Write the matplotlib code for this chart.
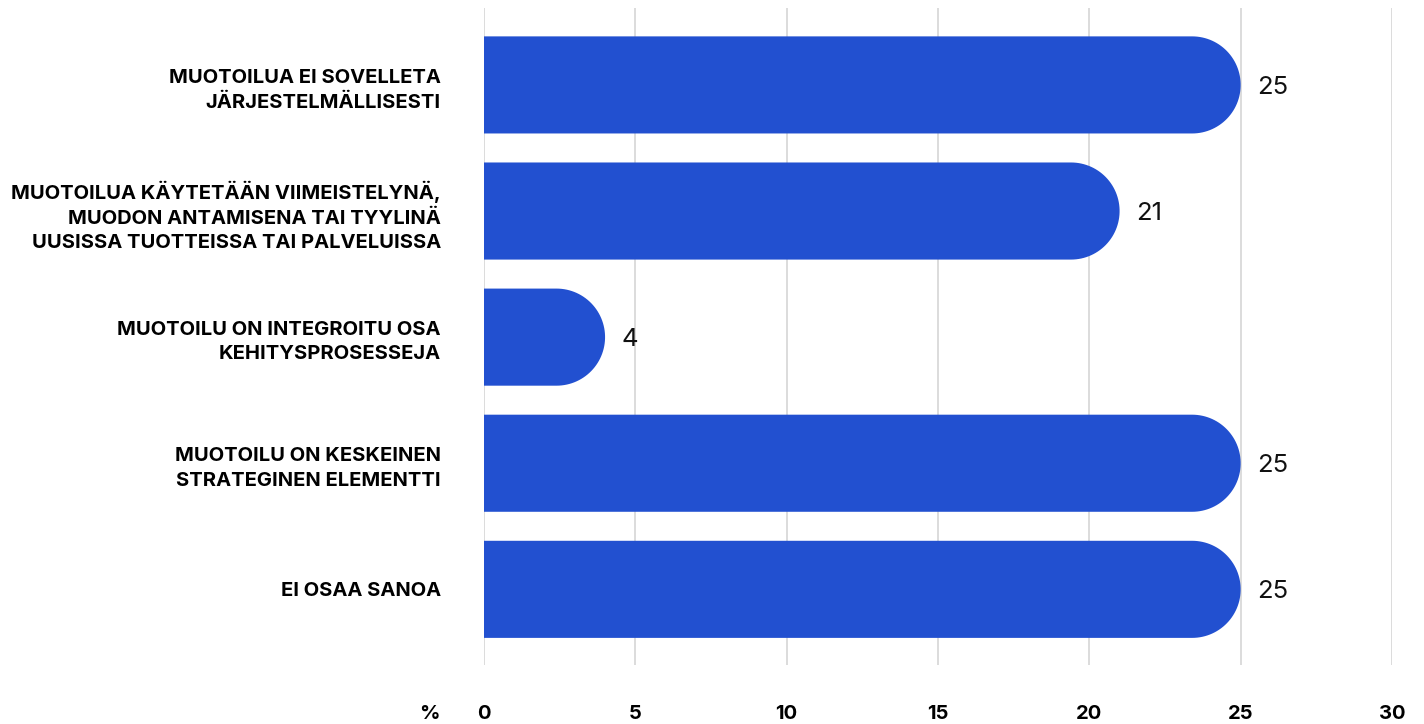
import matplotlib
matplotlib.use("Agg")
import numpy as np
import matplotlib.pyplot as plt
from matplotlib.patches import Polygon

plt.rcParams['font.family'] = ['Inter', 'DejaVu Sans']

# Data
categories = [
    "MUOTOILUA EI SOVELLETA\nJÄRJESTELMÄLLISESTI",
    "MUOTOILUA KÄYTETÄÄN VIIMEISTELYNÄ,\nMUODON ANTAMISENA TAI TYYLINÄ\nUUSISSA TUOTTEISSA TAI PALVELUISSA",
    "MUOTOILU ON INTEGROITU OSA\nKEHITYSPROSESSEJA",
    "MUOTOILU ON KESKEINEN\nSTRATEGINEN ELEMENTTI",
    "EI OSAA SANOA",
]
values = [25, 21, 4, 25, 25]
xticks = [0, 5, 10, 15, 20, 25, 30]

BAR_COLOR = "#2250d0"
BAR_H = 0.77

W, H = 1424, 724
fig = plt.figure(figsize=(W / 100, H / 100), dpi=100)
ax_left, ax_right, ax_top, ax_bot = 484, 1392, 8, 665
ax = fig.add_axes([ax_left / W, 1 - ax_bot / H, (ax_right - ax_left) / W, (ax_bot - ax_top) / H])

y_lo, y_hi = len(categories) - 0.4, -0.61
ax.set_xlim(0, 30)
ax.set_ylim(y_lo, y_hi)

# pixel scales -> radius of rounded end in x data units
px_per_x = (ax_right - ax_left) / 30
px_per_y = (ax_bot - ax_top) / abs(y_lo - y_hi)
rx = (BAR_H * px_per_y / 2) / px_per_x
ry = BAR_H / 2
theta = np.linspace(np.pi / 2, -np.pi / 2, 60)

for i, v in enumerate(values):
    cx = v - rx
    arc = np.column_stack([cx + rx * np.cos(theta), i - ry * np.sin(theta)])
    pts = np.vstack([[0, i - ry], arc, [0, i + ry]])
    ax.add_patch(Polygon(pts, closed=True, facecolor=BAR_COLOR, edgecolor="none", zorder=3))
    ax.text(v + 0.55, i + 0.02, str(v), va="center", ha="left", fontsize=18.5, color="#111111", zorder=4)

ax.set_yticks(range(len(categories)))
ax.set_yticklabels(categories, fontsize=14.5, fontweight="bold", linespacing=1.45)
ax.set_xticks(xticks)
ax.set_xticklabels([str(t) for t in xticks], fontsize=14.5, fontweight="bold")
ax.tick_params(axis="y", length=0, pad=31)
ax.tick_params(axis="x", length=0, pad=29)

ax.grid(axis="x", color="#d9d9d9", lw=1.3, zorder=0)
ax.set_axisbelow(True)
for s in ax.spines.values():
    s.set_visible(False)

ax.annotate("%", xy=(0, 0), xycoords=("data", "axes fraction"), xytext=(-39, -35),
            textcoords="offset points", ha="center", va="center",
            fontsize=14.5, fontweight="bold")

fig.savefig("out.png", dpi=100)
